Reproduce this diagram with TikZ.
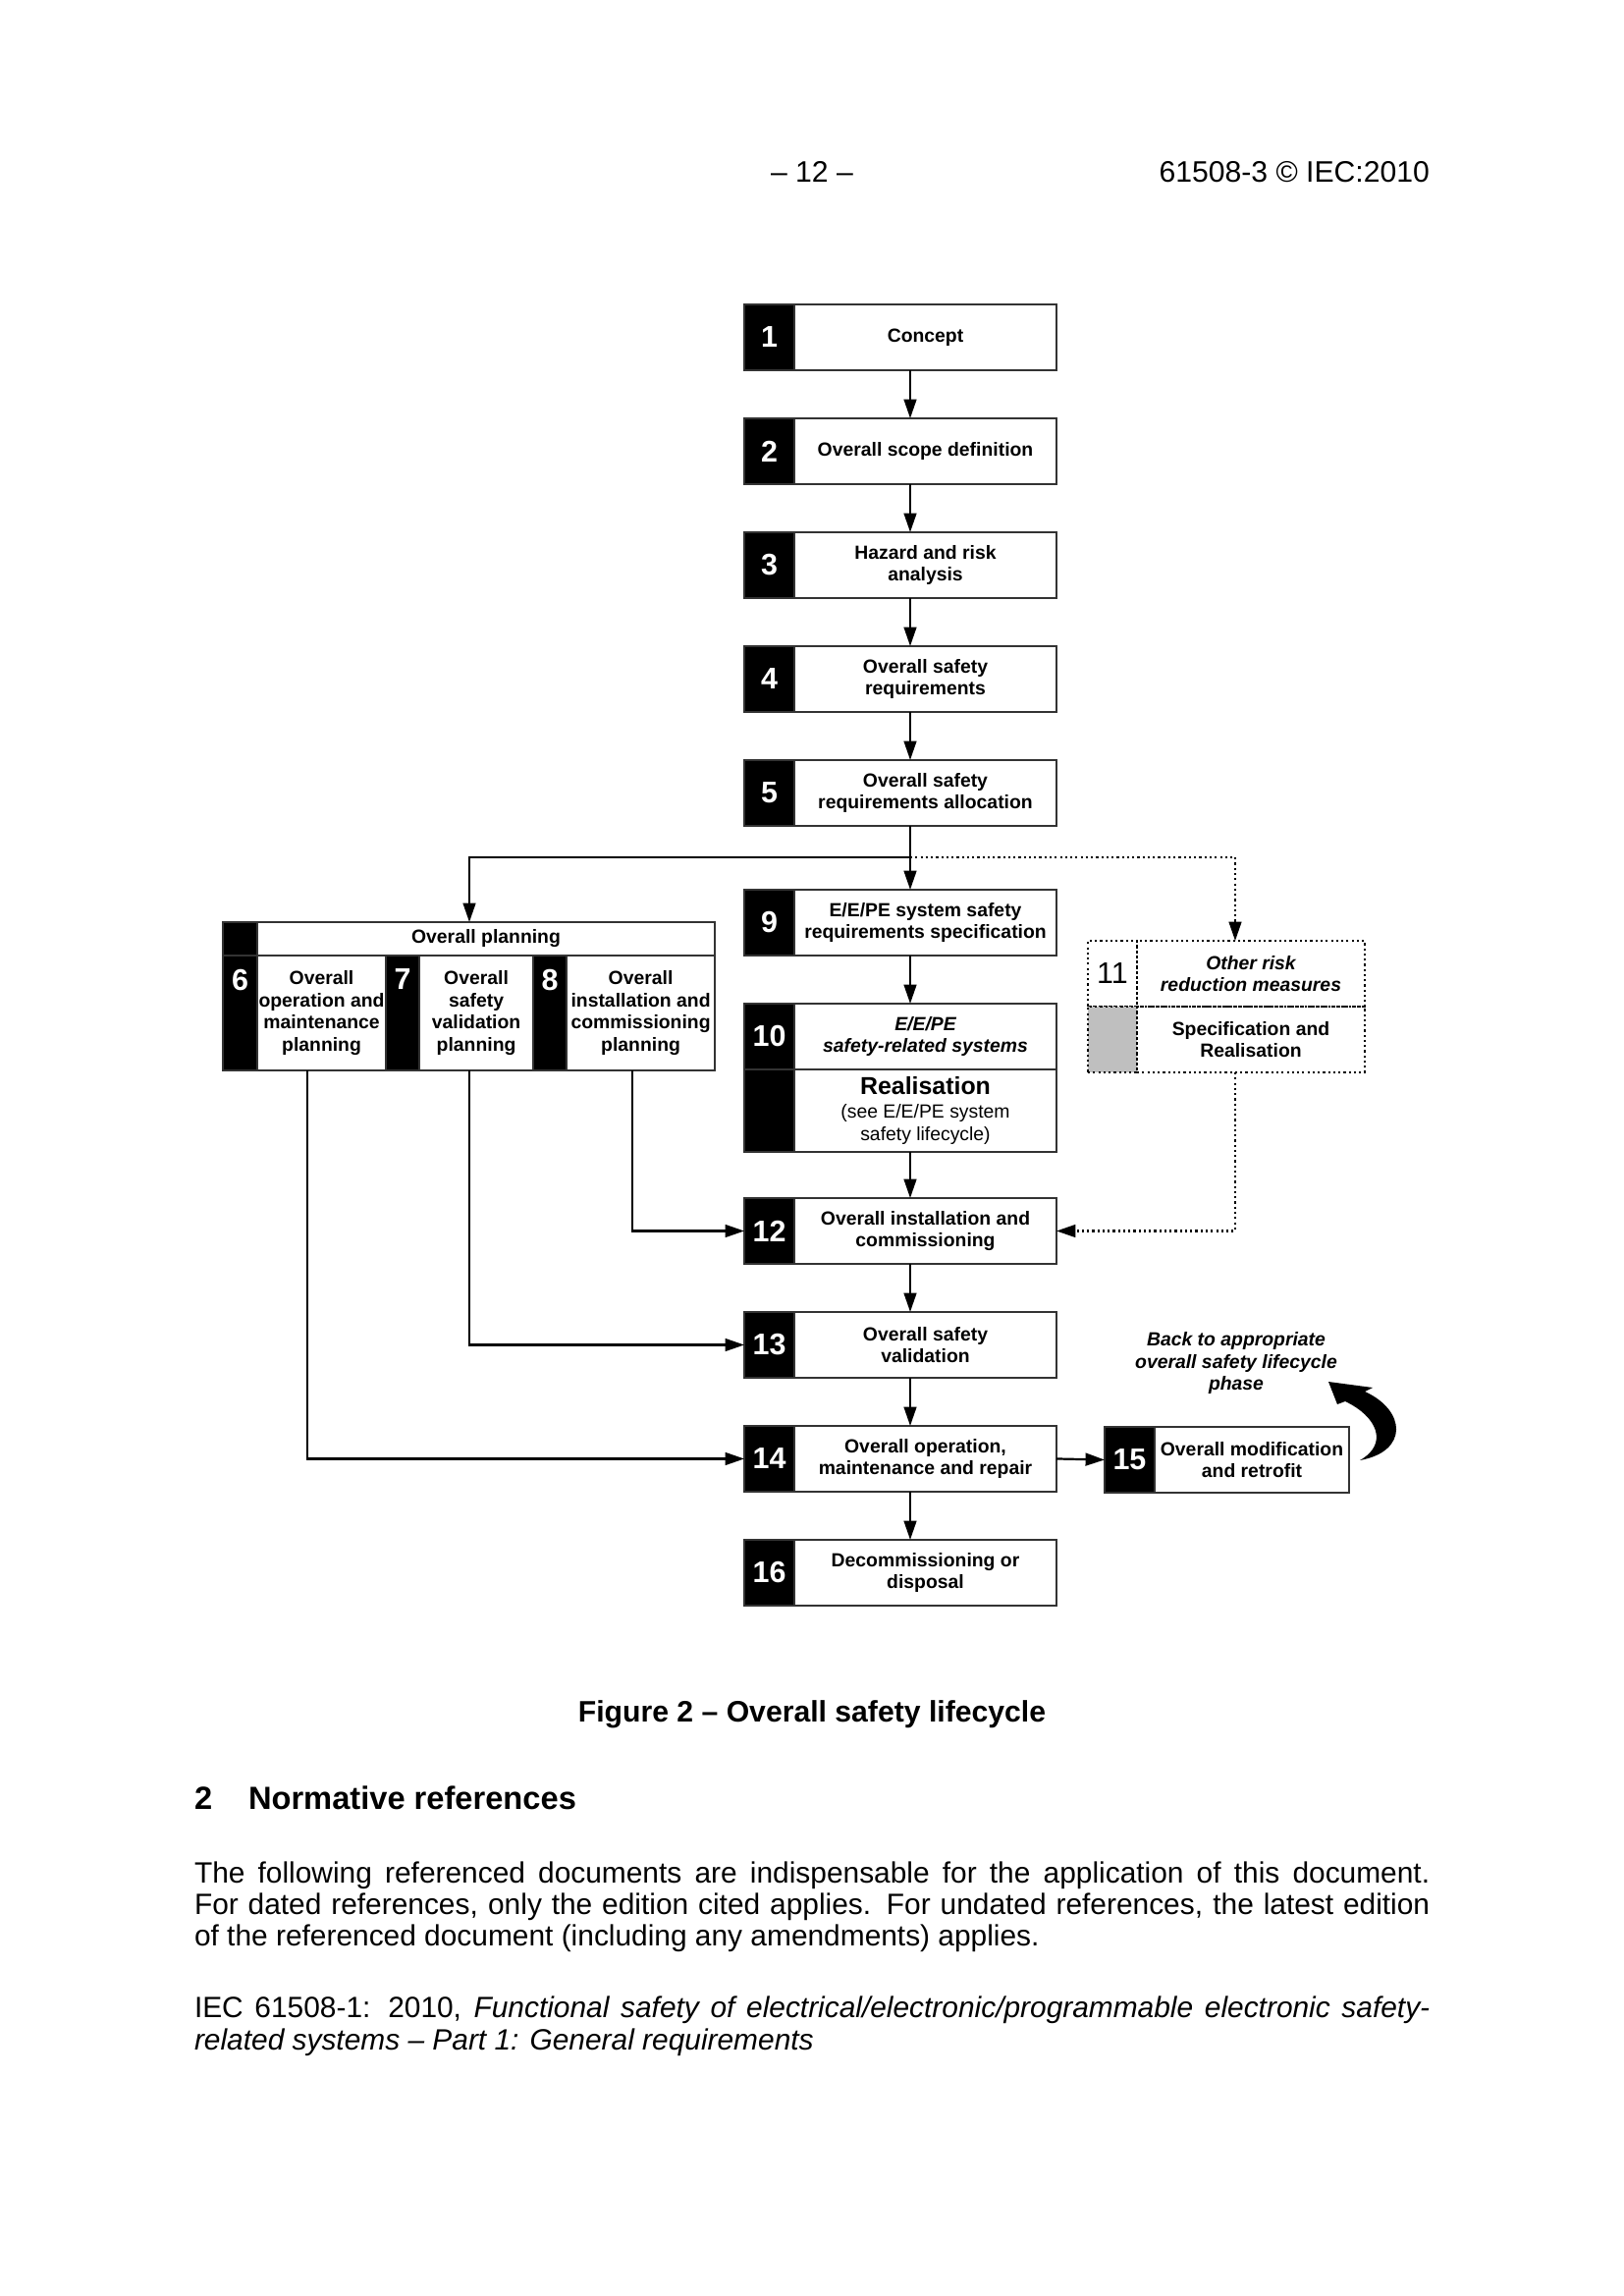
\documentclass[tikz,border=0pt]{standalone}
\usepackage{fontspec}
\setmainfont{Liberation Sans}
\usetikzlibrary{positioning, calc, arrows.meta}

\newcommand{\boxfont}{\fontsize{7}{8.2}\selectfont\bfseries}
\newcommand{\numfont}{\fontsize{11}{12}\selectfont\bfseries}

\begin{document}
\begin{tikzpicture}[x=0.127mm,y=-0.127mm,inner sep=0pt,outer sep=0pt,node distance=14.73mm,>={Triangle[length=7pt,width=4.6pt]},
  stage/.style={draw=black!80,line width=0.5pt,minimum width=33.9mm,minimum height=8.51mm,align=center,font=\boxfont},
  num/.style={draw=black!80,line width=0.5pt,fill=black,text=white,minimum width=6.48mm,minimum height=8.51mm,font=\numfont},
  numlabel/.style={anchor=north,text=white,font=\numfont,yshift=-5pt},
  cell/.style={draw,line width=0.8pt,dash pattern=on 0.8pt off 1.1pt,minimum height=8.51mm,align=center,font=\boxfont},
  flow/.style={line width=0.8pt},
  dotline/.style={line width=0.8pt,dash pattern=on 0.8pt off 1.1pt},
  body/.style={anchor=base west,font=\fontsize{10.8}{12}\selectfont}]
\useasboundingbox (0,0) rectangle (1653,2338);
\fill [white] (0,0) rectangle (1653,2338);

% page head
\node [anchor=base,font=\fontsize{10.9}{12}\selectfont] (pageno) at (827,186) {– 12 –};
\node [anchor=base east,font=\fontsize{10.9}{12}\selectfont] (docref) at (1456,186) {61508-3 © IEC:2010};

% main column
\draw node [stage] (S1) at (942.5,343.5) {Concept};
\draw node [stage] (S2) [below of=S1] {Overall scope definition};
\draw node [stage] (S3) [below of=S2] {Hazard and risk\\analysis};
\draw node [stage] (S4) [below of=S3] {Overall safety\\requirements};
\draw node [stage] (S5) [below of=S4] {Overall safety\\requirements allocation};
\draw node [stage] (S9) at (942.5,939.5) {E/E/PE system safety\\requirements specification};
\draw node [stage,font=\boxfont\itshape] (S10) [below of=S9] {E/E/PE\\safety-related systems};
\draw node [stage,minimum height=10.67mm,font=\fontsize{7}{8.4}\selectfont] (R10) [below=0pt of S10] {{\fontsize{9}{10}\selectfont\bfseries Realisation}\\(see E/E/PE system\\safety lifecycle)};
\draw node [stage] (S12) at (942.5,1253.5) {Overall installation and\\commissioning};
\draw node [stage] (S13) [below of=S12] {Overall safety\\validation};
\draw node [stage] (S14) [below of=S13] {Overall operation,\\maintenance and repair};
\draw node [stage] (S16) [below of=S14] {Decommissioning or\\disposal};

\draw node [num] (N1) [left=0pt of S1] {1};
\draw node [num] (N2) [left=0pt of S2] {2};
\draw node [num] (N3) [left=0pt of S3] {3};
\draw node [num] (N4) [left=0pt of S4] {4};
\draw node [num] (N5) [left=0pt of S5] {5};
\draw node [num] (N9) [left=0pt of S9] {9};
\draw node [num] (N10) [left=0pt of S10] {10};
\draw node [num,minimum height=10.67mm] (NR) [left=0pt of R10] {};
\draw node [num] (N12) [left=0pt of S12] {12};
\draw node [num] (N13) [left=0pt of S13] {13};
\draw node [num] (N14) [left=0pt of S14] {14};
\draw node [num] (N16) [left=0pt of S16] {16};

% overall planning
\draw node [num,minimum width=4.45mm,minimum height=4.32mm] (PN) at (244.5,956) {};
\draw node [stage,minimum width=59.18mm,minimum height=4.32mm] (PH) [right=0pt of PN] {Overall planning};
\draw node [num,minimum width=4.45mm,minimum height=14.86mm,label={[numlabel]north:6}] (N6) at (244.5,1031.5) {};
\draw node [stage,minimum width=16.64mm,minimum height=14.86mm] (P6) [right=0pt of N6] {Overall\\operation and\\maintenance\\planning};
\draw node [num,minimum width=4.32mm,minimum height=14.86mm,label={[numlabel]north:7}] (N7) [right=0pt of P6] {};
\draw node [stage,minimum width=14.73mm,minimum height=14.86mm] (P7) [right=0pt of N7] {Overall\\safety\\validation\\planning};
\draw node [num,minimum width=4.32mm,minimum height=14.86mm,label={[numlabel]north:8}] (N8) [right=0pt of P7] {};
\draw node [stage,minimum width=19.18mm,minimum height=14.86mm] (P8) [right=0pt of N8] {Overall\\installation and\\commissioning\\planning};

% other risk reduction measures
\draw node [cell,minimum width=6.35mm,font=\fontsize{11}{12}\selectfont] (N11) at (1133,991.5) {11};
\draw node [cell,minimum width=29.46mm,font=\boxfont\itshape] (O11) [right=0pt of N11] {Other risk\\reduction measures};
\draw node [cell,minimum width=6.35mm,fill=black!25] (G11) [below=0pt of N11] {};
\draw node [cell,minimum width=29.46mm] (R11) [right=0pt of G11] {Specification and\\Realisation};

% modification
\draw node [stage,minimum width=25.15mm] (S15) at (1275,1486.5) {Overall modification\\and retrofit};
\draw node [num] (N15) [left=0pt of S15] {15};
\node [font=\boxfont\itshape,align=center] (back) at (1259,1388) {Back to appropriate\\overall safety lifecycle\\phase};
\fill (1385,1487) .. controls (1435,1478) and (1432,1436) .. (1390,1417) -- (1398,1413) -- (1353,1407) -- (1362,1430) -- (1370,1427) .. controls (1402,1442) and (1415,1470) .. (1385,1487) -- cycle;

% connectors
\draw [flow,->] ($(S1.south)+(-15.5,0)$) -- ($(S2.north)+(-15.5,0)$);
\draw [flow,->] ($(S2.south)+(-15.5,0)$) -- ($(S3.north)+(-15.5,0)$);
\draw [flow,->] ($(S3.south)+(-15.5,0)$) -- ($(S4.north)+(-15.5,0)$);
\draw [flow,->] ($(S4.south)+(-15.5,0)$) -- ($(S5.north)+(-15.5,0)$);
\coordinate (split) at ($(S5.south)+(-15.5,32)$);
\draw [flow,->] ($(S5.south)+(-15.5,0)$) -- ($(S9.north)+(-15.5,0)$);
\draw [flow,->] (split) -| ($(PH.north)+(-17,0)$);
\draw [dotline,->] (split) -| ($(O11.north)+(-16,0)$);
\draw [flow,->] ($(S9.south)+(-15.5,0)$) -- ($(S10.north)+(-15.5,0)$);
\draw [flow,->] ($(R10.south)+(-15.5,0)$) -- ($(S12.north)+(-15.5,0)$);
\draw [flow,->] ($(S12.south)+(-15.5,0)$) -- ($(S13.north)+(-15.5,0)$);
\draw [flow,->] ($(S13.south)+(-15.5,0)$) -- ($(S14.north)+(-15.5,0)$);
\draw [flow,->] ($(S14.south)+(-15.5,0)$) -- ($(S16.north)+(-15.5,0)$);
\draw [flow,->] (S14.east) -- (N15.west);
\draw [flow,->] ($(P8.south)+(-8.5,0)$) |- (N12.west);
\draw [flow,->] ($(P7.south)+(-7,0)$) |- (N13.west);
\draw [flow,->] ($(P6.south)+(-14.5,0)$) |- (N14.west);
\draw [dotline,->] ($(R11.south)+(-16,0)$) |- (S12.east);

% caption and text
\node [anchor=base,font=\fontsize{10.9}{12}\selectfont\bfseries] (caption) at (827,1753) {Figure 2 – Overall safety lifecycle};
\node [anchor=base west,font=\fontsize{11.8}{13}\selectfont\bfseries] (secno) at (198,1842) {2};
\node [anchor=base west,font=\fontsize{11.8}{13}\selectfont\bfseries] (sectitle) at (253,1842) {Normative references};
\node [body] (line1) at (198,1917) {\makebox[159.8mm][s]{The following referenced documents are indispensable for the application of this document.}};
\node [body] (line2) at (198,1949) {\makebox[159.8mm][s]{For dated references, only the edition cited applies. For undated references, the latest edition}};
\node [body] (line3) at (198,1981) {of the referenced document (including any amendments) applies.};
\node [body] (ref1) at (198,2054) {\makebox[159.8mm][s]{IEC 61508-1: 2010, \itshape Functional safety of electrical/electronic/programmable electronic safety-}};
\node [body] (ref2) at (198,2087) {\itshape related systems – Part 1: General requirements};
\end{tikzpicture}
\end{document}
